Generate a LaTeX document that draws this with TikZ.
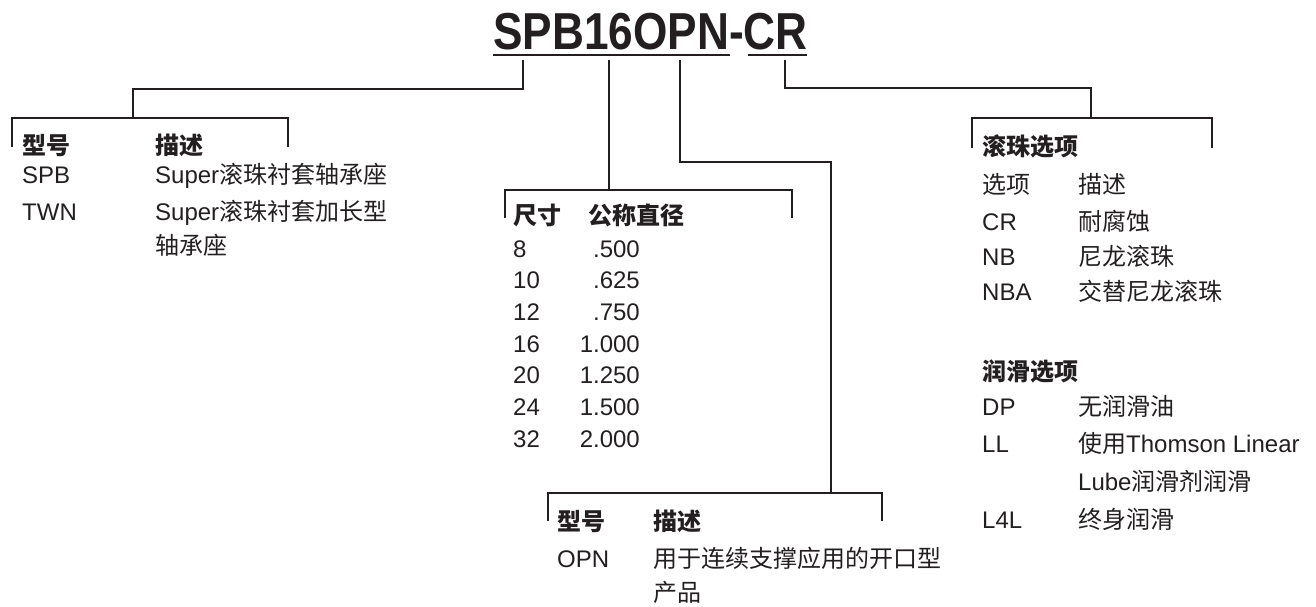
\documentclass[tikz,border=0pt]{standalone}
\usepackage{fontspec}
\usepackage{graphicx}
\setmainfont{Liberation Sans}
\newfontfamily\cjk{Noto Sans CJK SC}
\newcommand{\zh}[1]{{\cjk #1}}
\definecolor{ink}{HTML}{231F20}
\tikzset{
  txt/.style={anchor=base west,inner sep=0pt,text=ink,font=\fontsize{24}{28}\selectfont},
  num/.style={txt,anchor=base east},
  head/.style={txt,font=\fontsize{24}{28}\selectfont\bfseries},
  wire/.style={draw=ink,line width=2.7pt,line cap=rect}
}
\begin{document}
\begin{tikzpicture}[x=1pt,y=-1pt]
\path[use as bounding box] (0,0) rectangle (1316,607);
% part number
\node[txt,font=\fontsize{52}{56}\selectfont\bfseries] (pn) at (493,50)
  {\scalebox{0.85}[1]{SPB16OPN-CR}};
\draw[wire,line cap=butt] (493,55)--(730,55) (748,55)--(807,55);
\coordinate (t1) at (523,61); \coordinate (t2) at (609,61);
\coordinate (t3) at (680,61); \coordinate (t4) at (785,61);
% brackets
\coordinate (b1) at (133,118); \coordinate (b2) at (609,190);
\coordinate (b3) at (831,493); \coordinate (b4) at (1091,118);
\draw[wire] (12,146)--(12,118)--(288,118)--(288,146);
\draw[wire] (505,217)--(505,190)--(792,190)--(792,217);
\draw[wire] (548,520)--(548,493)--(882,493)--(882,520);
\draw[wire] (972,147)--(972,118)--(1212,118)--(1212,147);
% connectors
\draw[wire] (t1)--++(0,28)-|(b1);
\draw[wire] (t2)--(b2);
\draw[wire] (t3)--++(0,101)-|(b3);
\draw[wire] (t4)--++(0,27)-|(b4);
% series
\node[head] (sh1) at (22,154) {\zh{型号}};
\node[head] (sh2) at (155,154) {\zh{描述}};
\node[txt] (s1) at (22,183) {SPB};
\node[txt] (d1) at (155,183) {Super\zh{滚珠衬套轴承座}};
\node[txt] (s2) at (22,220) {TWN};
\node[txt] (d2) at (155,220) {Super\zh{滚珠衬套加长型}};
\node[txt] (d3) at (155,254) {\zh{轴承座}};
% size
\node[head] (zh1) at (513,224) {\zh{尺寸}};
\node[head] (zh2) at (588,224) {\zh{公称直径}};
\foreach \s/\d [count=\i from 0] in {8/.500,10/.625,12/.750,16/1.000,20/1.250,24/1.500,32/2.000}{
  \node[txt] (z\i) at (513,257+31.7*\i) {\s};
  \node[num] (v\i) at (640,257+31.7*\i) {\d};
}
% style
\node[head] (oh1) at (557,530) {\zh{型号}};
\node[head] (oh2) at (653,530) {\zh{描述}};
\node[txt] (o1) at (557,567) {OPN};
\node[txt] (od1) at (653,567) {\zh{用于连续支撑应用的开口型}};
\node[txt] (od2) at (653,601) {\zh{产品}};
% options
\node[head] (rh) at (982,155) {\zh{滚珠选项}};
\node[txt] (rh1) at (982,193) {\zh{选项}};
\node[txt] (rh2) at (1078,193) {\zh{描述}};
\node[txt] (r1) at (982,230) {CR};
\node[txt] (rd1) at (1078,230) {\zh{耐腐蚀}};
\node[txt] (r2) at (982,265) {NB};
\node[txt] (rd2) at (1078,265) {\zh{尼龙滚珠}};
\node[txt] (r3) at (982,300) {NBA};
\node[txt] (rd3) at (1078,300) {\zh{交替尼龙滚珠}};
\node[head] (lh) at (982,380) {\zh{润滑选项}};
\node[txt] (l1) at (982,415) {DP};
\node[txt] (ld1) at (1078,415) {\zh{无润滑油}};
\node[txt] (l2) at (982,452) {LL};
\node[txt] (ld2) at (1078,452) {\zh{使用}Thomson Linear};
\node[txt] (ld3) at (1078,490) {Lube\zh{润滑剂润滑}};
\node[txt] (l3) at (982,528) {L4L};
\node[txt] (ld4) at (1078,528) {\zh{终身润滑}};
\end{tikzpicture}
\end{document}
